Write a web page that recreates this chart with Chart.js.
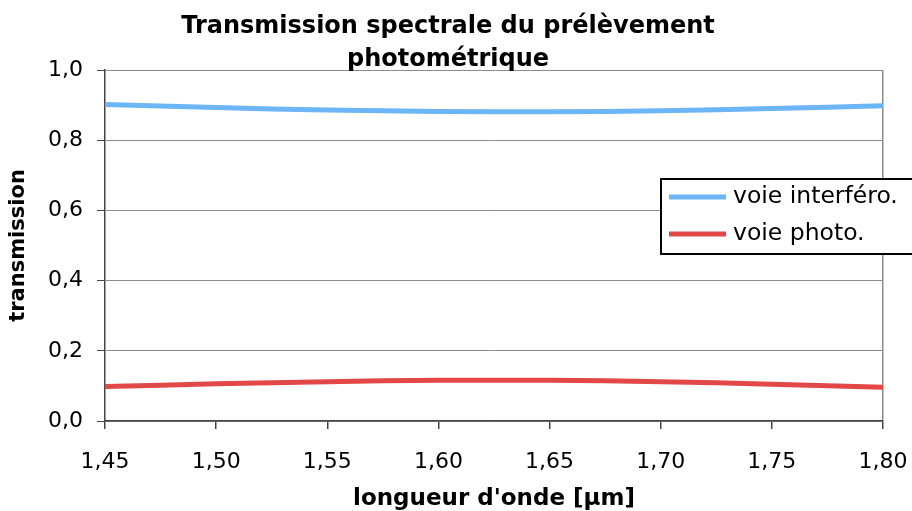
<!DOCTYPE html>
<html>
<head>
<meta charset="utf-8">
<script src="https://cdn.jsdelivr.net/npm/chart.js@4.4.0/dist/chart.umd.min.js"></script>
<style>
  html, body { margin: 0; padding: 0; background: #fff; }
  #wrap { width: 912px; height: 511px; position: relative; }
</style>
</head>
<body>
<div id="wrap"><canvas id="c" width="912" height="511"></canvas></div>
<script>
const titleLines = ['Transmission spectrale du prélèvement', 'photométrique'];
const xTitle = 'longueur d\'onde [µm]';
const yTitle = 'transmission';
const categories = ['1,45', '1,50', '1,55', '1,60', '1,65', '1,70', '1,75', '1,80'];
const yTickLabels = ['0,0', '0,2', '0,4', '0,6', '0,8', '1,0'];
const seriesNames = ['voie interféro.', 'voie photo.'];
const interfero = [0.902, 0.893, 0.886, 0.882, 0.881, 0.884, 0.890, 0.898];
const photo = [0.098, 0.106, 0.112, 0.116, 0.116, 0.112, 0.105, 0.096];

const BLUE = '#6cb5f6';
const RED = '#e24848';

const titlePlugin = {
  id: 'twoLineTitle',
  afterDraw(chart) {
    const ctx = chart.ctx;
    ctx.save();
    ctx.fillStyle = '#000';
    ctx.font = 'bold 24px "DejaVu Sans", sans-serif';
    ctx.textAlign = 'center';
    ctx.textBaseline = 'alphabetic';
    titleLines.forEach((t, i) => ctx.fillText(t, 448, 33 + i * 33));
    ctx.restore();
  }
};

const legendPlugin = {
  id: 'boxLegend',
  afterDraw(chart) {
    const ctx = chart.ctx;
    const x = 661, y = 179, w = 252, h = 75;
    ctx.save();
    ctx.fillStyle = '#fff';
    ctx.fillRect(x, y, w, h);
    ctx.strokeStyle = '#000';
    ctx.lineWidth = 2;
    ctx.strokeRect(x, y, w, h);
    ctx.font = '23.5px "DejaVu Sans", sans-serif';
    ctx.textBaseline = 'middle';
    ctx.textAlign = 'left';
    chart.data.datasets.forEach((ds, i) => {
      const cy = 197 + i * 37;
      ctx.strokeStyle = ds.borderColor;
      ctx.lineWidth = 5;
      ctx.beginPath();
      ctx.moveTo(669, cy);
      ctx.lineTo(726, cy);
      ctx.stroke();
      ctx.fillStyle = '#000';
      ctx.fillText(ds.label, 733, cy);
    });
    ctx.restore();
  }
};

new Chart(document.getElementById('c'), {
  type: 'line',
  data: {
    labels: categories,
    datasets: [
      { label: seriesNames[0], data: interfero, borderColor: BLUE, borderWidth: 5, pointRadius: 0, tension: 0.3, fill: false },
      { label: seriesNames[1], data: photo, borderColor: RED, borderWidth: 5, pointRadius: 0, tension: 0.3, fill: false }
    ]
  },
  options: {
    responsive: false,
    animation: false,
    devicePixelRatio: 1,
    layout: { padding: { top: 70, right: 29, bottom: 0, left: 0 } },
    plugins: {
      legend: { display: false },
      title: { display: false },
      tooltip: { enabled: false }
    },
    scales: {
      x: {
        type: 'category',
        offset: false,
        afterFit(scale) { scale.height = 90; scale.paddingLeft = 0; scale.paddingRight = 0; },
        grid: {
          drawOnChartArea: true,
          color: (ctx) => ctx.index === categories.length - 1 ? '#8c8c8c' : 'rgba(0,0,0,0)',
          tickColor: '#444',
          tickLength: 8,
          lineWidth: 1.5
        },
        border: { color: '#444', width: 1.5 },
        ticks: {
          color: '#000',
          font: { family: '"DejaVu Sans", sans-serif', size: 22 },
          padding: 20,
          maxRotation: 0,
          autoSkip: false
        },
        title: {
          display: true,
          text: xTitle,
          color: '#000',
          font: { family: '"DejaVu Sans", sans-serif', size: 23, weight: 'bold' },
          padding: { top: 0, bottom: -2 }
        }
      },
      y: {
        min: 0,
        max: 1,
        afterFit(scale) { scale.width = 105; scale.paddingTop = 0; scale.paddingBottom = 0; },
        ticks: {
          stepSize: 0.2,
          color: '#000',
          font: { family: '"DejaVu Sans", sans-serif', size: 22 },
          padding: 14,
          callback: (v, i) => yTickLabels[i]
        },
        grid: {
          color: '#8c8c8c',
          tickColor: '#444',
          tickLength: 8,
          lineWidth: 1
        },
        border: { color: '#444', width: 1.5 },
        title: {
          display: true,
          text: yTitle,
          color: '#000',
          font: { family: '"DejaVu Sans", sans-serif', size: 21, weight: 'bold' },
          padding: { top: 6, bottom: 0 }
        }
      }
    }
  },
  plugins: [titlePlugin, legendPlugin]
});
</script>
</body>
</html>
